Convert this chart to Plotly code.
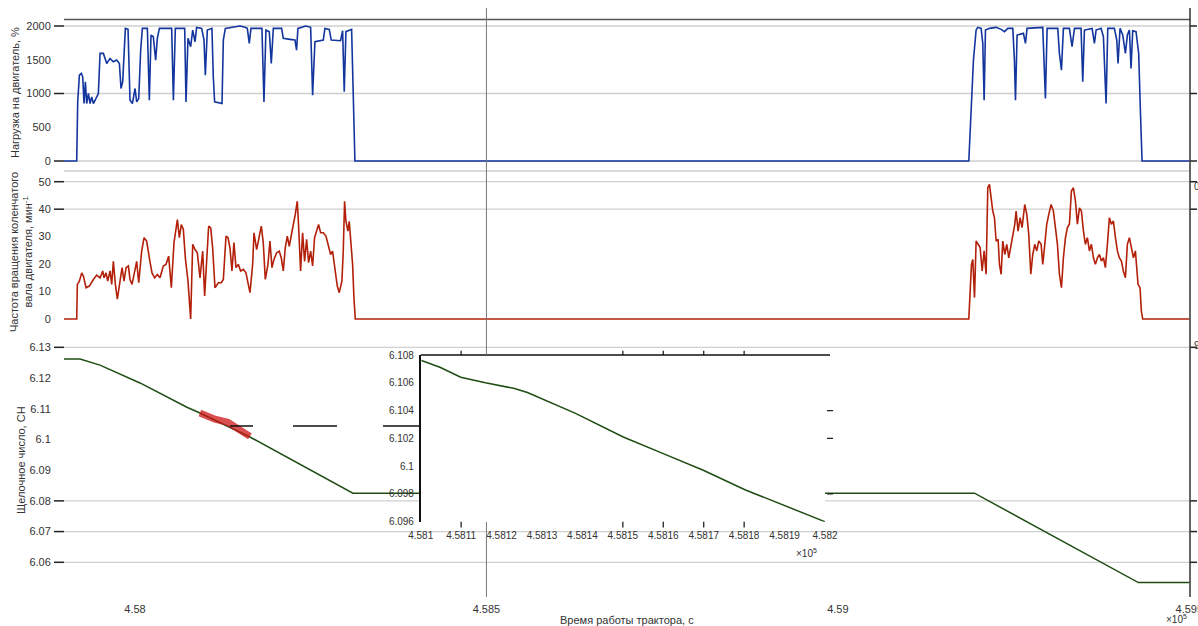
import plotly.graph_objects as go

# ---------------- data ----------------
LOAD_T = [457899, 457917.1, 457918.5, 457920.9, 457923.7, 457925.6, 457927.5, 457929.4, 457931.3, 457933.7,
          457936.1, 457938.4, 457940.8, 457944.6, 457947.9, 457950.3, 457955.0, 457959.8, 457964.5, 457969.2,
          457974.0, 457977.8, 457980.1, 457982.5, 457984.4, 457986.3, 457990.1, 457992.9, 457996.3, 458000.1,
          458002.4, 458005.3, 458008.1, 458010.5, 458017.6, 458020.4, 458022.8, 458026.1, 458029.4, 458031.8,
          458034.7, 458052.2, 458054.6, 458057.4, 458070.7, 458072.6, 458075.4, 458079.2, 458082.1, 458085.4,
          458087.7, 458094.9, 458098.2, 458100.1, 458102.9, 458109.5, 458111.4, 458113.3, 458123.8, 458125.7,
          458128.5, 458139.9, 458149.4, 458156.5, 458159.8, 458162.6, 458165.0, 458180.6, 458183.5, 458186.3,
          458191.1, 458193.9, 458196.8, 458208.6, 458211.0, 458220.5, 458227.6, 458229.9, 458231.8, 458243.2,
          458249.9, 458252.7, 458256.0, 458267.9, 458270.2, 458276.4, 458279.2, 458292.5, 458295.4, 458297.7,
          458300.1, 458308.2, 458310.5, 458312.9,
          459186.3, 459189.6, 459192.9, 459196.7, 459199.1, 459203.8, 459206.2, 459208.1, 459210.0, 459215.7,
          459225.2, 459232.3, 459237.0, 459241.8, 459248.9, 459251.2, 459252.7, 459255.0, 459260.7, 459264.0,
          459266.9, 459269.2, 459291.5, 459293.4, 459295.3, 459297.7, 459312.9, 459315.2, 459318.1, 459320.9,
          459329.4, 459333.2, 459336.6, 459346.0, 459348.4, 459350.8, 459361.7, 459365.0, 459367.4, 459374.5,
          459377.8, 459381.6, 459384.0, 459393.4, 459396.8, 459398.6, 459401.5, 459405.3, 459409.1, 459411.9,
          459414.8, 459417.1, 459419.5, 459424.2, 459428.0, 459430.4, 459432.8, 459500]
LOAD_V = [0, 0, 876, 1272, 1297, 1247, 851, 1173, 851, 1000,
          851, 950, 851, 925, 1000, 1594, 1594, 1445, 1520, 1470,
          1495, 1445, 1074, 1173, 1495, 1965, 1950, 900, 851, 1074,
          876, 925, 1643, 1965, 1965, 900, 1866, 1841, 1495, 1817,
          1965, 1965, 900, 1965, 1965, 876, 1817, 1693, 1940, 1767,
          1980, 1965, 1792, 1272, 1940, 1965, 1247, 876, 851, 1792,
          1965, 1980, 2000, 1980, 1965, 1742, 1965, 1965, 876, 1940,
          1916, 1445, 1965, 1965, 1817, 1802, 1792, 1643, 1965, 2000,
          1980, 975, 1767, 1792, 1965, 1950, 1792, 1782, 1930, 1025,
          1916, 1950, 900, 0,
          0, 752, 1495, 1940, 1980, 1965, 1742, 900, 1940, 1965,
          1980, 1950, 1916, 1965, 1965, 1495, 900, 1866, 1881, 1891,
          1742, 1965, 1980, 1495, 925, 1965, 1965, 1594, 1346, 1965,
          1965, 1693, 1965, 1965, 1173, 1940, 1965, 1742, 1940, 1965,
          1841, 851, 1965, 1965, 1792, 1445, 1965, 1866, 1594, 1866,
          1940, 1371, 1930, 1916, 1594, 752, 0, 0]

RPM_T = [457899, 457917.1, 457918.0, 457920.9, 457924.2, 457926.6, 457930.4, 457935.1, 457940.8, 457945.5,
         457950.3, 457954.1, 457956.0, 457958.8, 457961.2, 457964.5, 457966.9, 457969.2, 457972.1, 457974.9,
         457978.7, 457981.6, 457984.4, 457987.3, 457990.6, 457992.9, 457995.8, 457999.6, 458002.4, 458005.3,
         458009.5, 458012.9, 458016.6, 458020.4, 458024.2, 458028.0, 458031.8, 458035.6, 458040.3, 458044.1,
         458047.9, 458051.7, 458055.5, 458060.3, 458063.1, 458065.9, 458068.8, 458071.6, 458075.4, 458079.2,
         458082.1, 458085.4, 458088.7, 458092.5, 458096.3, 458099.1, 458102.0, 458104.8, 458107.7, 458110.5,
         458113.8, 458118.6, 458122.8, 458125.7, 458129.5, 458132.3, 458135.1, 458138.0, 458140.8, 458143.7,
         458147.0, 458150.3, 458154.1, 458157.9, 458161.2, 458163.6, 458167.4, 458169.3, 458173.1, 458176.4,
         458179.7, 458182.5, 458185.4, 458189.2, 458192.0, 458194.9, 458197.7, 458201.5, 458205.3, 458208.1,
         458211.0, 458213.8, 458216.7, 458219.5, 458222.4, 458225.2, 458228.0, 458230.9, 458232.8, 458235.6,
         458238.5, 458241.3, 458244.2, 458247.0, 458249.9, 458252.7, 458255.5, 458258.4, 458261.2, 458264.1,
         458267.9, 458271.7, 458275.4, 458278.3, 458281.1, 458284.0, 458287.8, 458290.6, 458294.4, 458296.3,
         458298.2, 458300.1, 458302.9, 458304.8, 458306.7, 458309.6, 458311.5, 458313.4,
         459186.3, 459188.2, 459190.1, 459192.0, 459194.4, 459196.7, 459199.6, 459202.4, 459205.3, 459208.1,
         459210.9, 459213.3, 459215.7, 459218.1, 459220.4, 459222.8, 459225.2, 459228.0, 459229.9, 459232.3,
         459234.6, 459237.5, 459240.3, 459243.2, 459246.5, 459248.9, 459251.7, 459253.6, 459256.4, 459259.3,
         459262.1, 459265.9, 459268.8, 459271.6, 459274.5, 459277.3, 459280.1, 459283.0, 459285.8, 459289.2,
         459291.5, 459294.4, 459297.2, 459300.1, 459303.4, 459306.7, 459309.5, 459312.4, 459315.2, 459318.1,
         459320.9, 459323.8, 459326.6, 459329.4, 459332.3, 459335.1, 459338.0, 459340.8, 459343.7, 459346.5,
         459349.4, 459352.2, 459355.0, 459357.9, 459360.7, 459363.6, 459366.4, 459369.3, 459372.1, 459375.0,
         459377.8, 459380.6, 459383.5, 459386.3, 459389.2, 459392.0, 459394.9, 459397.7, 459400.5, 459403.4,
         459406.2, 459409.1, 459411.9, 459414.8, 459417.6, 459420.5, 459423.3, 459425.2, 459427.1, 459429.9,
         459431.8, 459433.7, 459500]
RPM_V = [0, 0, 12.6, 13.8, 16.8, 15.6, 11.4, 12.0, 14.4, 16.0,
         15.0, 17.5, 15.0, 16.8, 13.8, 17.5, 12.6, 21.0, 12.6, 7.2,
         13.8, 18.7, 13.8, 18.7, 19.3, 14.4, 12.6, 16.8, 21.0, 13.2,
         24.7, 29.6, 28.4, 22.3, 16.8, 15.0, 16.2, 15.0, 19.3, 19.9,
         22.9, 11.4, 27.8, 36.2, 29.6, 34.4, 32.6, 22.3, 13.8, 0,
         27.2, 25.3, 24.1, 15.0, 24.7, 8.4, 23.5, 33.8, 33.2, 25.9,
         11.4, 13.2, 13.2, 14.4, 30.2, 29.6, 25.9, 17.5, 27.8, 18.7,
         19.9, 17.5, 18.1, 16.8, 12.6, 9.6, 19.9, 31.4, 25.3, 29.6,
         33.8, 27.8, 14.4, 19.9, 28.4, 18.7, 21.7, 24.1, 24.7, 22.3,
         17.5, 25.9, 30.2, 26.5, 31.4, 34.4, 38.0, 42.9, 33.8, 17.5,
         31.4, 21.0, 29.0, 20.5, 24.7, 19.3, 29.6, 32.0, 34.4, 31.4,
         31.4, 30.2, 26.5, 23.5, 24.7, 18.7, 12.0, 9.6, 13.8, 24.7,
         42.9, 35.6, 32.0, 35.6, 29.6, 19.9, 7.8, 0,
         0, 9.0, 19.9, 21.7, 7.8, 28.4, 27.2, 26.0, 17.5, 24.8,
         16.3, 47.8, 49.0, 43.0, 39.3, 36.9, 28.4, 29.0, 19.9, 16.3,
         28.4, 23.5, 27.2, 22.3, 27.2, 29.6, 34.5, 39.3, 32.0, 36.9,
         33.3, 41.7, 38.1, 30.8, 16.3, 23.5, 27.2, 24.8, 28.4, 27.2,
         19.9, 27.2, 34.5, 38.1, 41.7, 39.3, 32.0, 27.2, 16.3, 11.4,
         22.3, 29.6, 33.3, 34.5, 46.6, 47.8, 43.0, 34.5, 40.5, 39.3,
         32.0, 27.2, 29.6, 24.8, 27.2, 22.3, 19.9, 22.3, 23.5, 21.1,
         22.3, 18.7, 27.2, 36.9, 34.5, 35.7, 29.6, 24.8, 22.3, 21.1,
         17.5, 15.0, 27.2, 29.6, 26.0, 22.3, 24.8, 17.5, 12.6, 11.4,
         2.9, 0, 0]

BN_T = [457899, 457921.8, 457950.2, 457992.9, 458007.1, 458073.9, 458092.4, 458163.5, 458310.0,
        459194.4, 459427.6, 459500]
BN_V = [6.1262, 6.1262, 6.1242, 6.1197, 6.1184, 6.1105, 6.1086, 6.1008, 6.0825,
        6.0825, 6.0534, 6.0534]

HL_T = [458092.4, 458113.7, 458132.2, 458149.3, 458163.5]
HL_V = [6.1086, 6.1066, 6.1056, 6.1034, 6.1010]

INSET_T = [458100.2, 458104.9, 458109.9, 458116.0, 458123.0, 458126.4, 458138.3, 458150.1,
           458160.0, 458169.9, 458180.2, 458200.0]
INSET_V = [6.1076, 6.1071, 6.1064, 6.1060, 6.1056, 6.1053, 6.1038, 6.1021,
           6.1009, 6.0997, 6.0983, 6.0960]

X_TICKS = [458000, 458500, 459000, 459500]
X_TICK_TEXT = ["4.58", "4.585", "4.59", "4.595"]
LOAD_TICKS = [0, 500, 1000, 1500, 2000]
LOAD_GRID = [0, 1000, 2000]
RPM_TICKS = [0, 10, 20, 30, 40, 50]
RPM_GRID = [40, 50]
BN_TICKS = [6.06, 6.07, 6.08, 6.09, 6.10, 6.11, 6.12, 6.13]
BN_TICK_TEXT = ["6.06", "6.07", "6.08", "6.09", "6.1", "6.11", "6.12", "6.13"]
BN_GRID = [6.06, 6.07, 6.08, 6.13]
INSET_X_TICKS = [458100, 458110, 458120, 458130, 458140, 458150, 458160, 458170, 458180, 458190, 458200]
INSET_X_TEXT = ["4.581", "4.5811", "4.5812", "4.5813", "4.5814", "4.5815", "4.5816", "4.5817",
                "4.5818", "4.5819", "4.582"]
INSET_X_GRID = [458110, 458150, 458160, 458170, 458180]
INSET_Y_TICKS = [6.096, 6.098, 6.100, 6.102, 6.104, 6.106, 6.108]
INSET_Y_TEXT = ["6.096", "6.098", "6.1", "6.102", "6.104", "6.106", "6.108"]
INSET_Y_GRID = [6.098, 6.102, 6.104]

# ---------------- styling ----------------
W, H = 1198, 626
FONT = "Liberation Sans, Arial, sans-serif"
BLUE = "#13359e"
RED = "#b3200a"
GREEN = "#1f4d14"
GRID = "#cfcfcf"
TXT = "#333333"


def py(p):
    return 1 - p / H


def px(p):
    return p / W


fig = go.Figure()
fig.add_trace(go.Scatter(x=LOAD_T, y=LOAD_V, xaxis="x", yaxis="y", mode="lines",
                         line=dict(color=BLUE, width=1.6), showlegend=False))
fig.add_trace(go.Scatter(x=RPM_T, y=RPM_V, xaxis="x2", yaxis="y2", mode="lines",
                         line=dict(color=RED, width=1.6), showlegend=False))
fig.add_trace(go.Scatter(x=BN_T, y=BN_V, xaxis="x3", yaxis="y3", mode="lines",
                         line=dict(color=GREEN, width=1.5), showlegend=False))
fig.add_trace(go.Scatter(x=HL_T, y=HL_V, xaxis="x3", yaxis="y3", mode="lines",
                         line=dict(color="rgba(205,20,20,0.75)", width=7), showlegend=False))
fig.add_trace(go.Scatter(x=INSET_T, y=INSET_V, xaxis="x4", yaxis="y4", mode="lines",
                         line=dict(color=GREEN, width=1.5), showlegend=False))

XDOM = [px(64), px(1190)]
XRANGE = [457899, 459501]
tickfont = dict(family=FONT, size=11, color=TXT)

common_x = dict(domain=XDOM, range=XRANGE, showgrid=False, zeroline=False, showline=False,
                tickvals=X_TICKS, ticktext=X_TICK_TEXT, tickfont=tickfont)
common_y = dict(showgrid=False, zeroline=False, showline=False, ticks="outside", ticklen=10,
                tickcolor="rgba(0,0,0,0)", tickfont=tickfont)

fig.update_layout(
    width=W, height=H, template="none",
    margin=dict(l=0, r=0, t=0, b=0),
    paper_bgcolor="white", plot_bgcolor="white",
    font=dict(family=FONT, size=11, color=TXT),
    xaxis=dict(common_x, anchor="y", showticklabels=False),
    xaxis2=dict(common_x, anchor="y2", showticklabels=False),
    xaxis3=dict(common_x, anchor="y3", ticks="outside", ticklen=2, tickcolor="rgba(0,0,0,0)",
                ticklabeloverflow="allow"),
    yaxis=dict(common_y, domain=[py(166), py(19.5)], range=[-74.1, 2096.3], anchor="x",
               tickvals=LOAD_TICKS),
    yaxis2=dict(common_y, domain=[py(325), py(171)], range=[-2.18, 53.9], anchor="x2",
                tickvals=RPM_TICKS),
    yaxis3=dict(common_y, domain=[py(597), py(340)], range=[6.0487, 6.13238], anchor="x3",
                tickvals=BN_TICKS, ticktext=BN_TICK_TEXT),
    xaxis4=dict(domain=[px(420.7), px(825)], range=[458100, 458200], anchor="y4",
                showgrid=False, zeroline=False, showline=False,
                tickvals=INSET_X_TICKS, ticktext=INSET_X_TEXT, ticks="outside", ticklen=4,
                tickcolor="rgba(0,0,0,0)", tickfont=dict(family=FONT, size=10, color=TXT)),
    yaxis4=dict(domain=[py(521.7), py(355)], range=[6.096, 6.108], anchor="x4",
                showgrid=False, zeroline=False, showline=True, linecolor="#111111", linewidth=1.5,
                tickvals=INSET_Y_TICKS, ticktext=INSET_Y_TEXT, ticks="outside", ticklen=3,
                tickcolor="rgba(0,0,0,0)", tickfont=dict(family=FONT, size=10, color=TXT)),
)

shapes = []


def grid_shapes(xname, yname, vals, right_tick=True):
    for v in vals:
        shapes.append(dict(type="line", xref=f"{xname} domain", yref=yname, x0=0, x1=1, y0=v, y1=v,
                           line=dict(color=GRID, width=1.3), layer="below"))
        shapes.append(dict(type="line", xref=f"{xname} domain", yref=yname, x0=-10 / 1126, x1=0,
                           y0=v, y1=v, line=dict(color="#222222", width=1.5)))
        if right_tick:
            shapes.append(dict(type="line", xref=f"{xname} domain", yref=yname, x0=1, x1=1 + 7 / 1126,
                               y0=v, y1=v, line=dict(color="#222222", width=1.5)))


grid_shapes("x", "y", LOAD_GRID)
grid_shapes("x2", "y2", RPM_GRID)
grid_shapes("x3", "y3", BN_GRID)

# inset grid
for v in INSET_Y_GRID:
    shapes.append(dict(type="line", xref="x4 domain", yref="y4", x0=0, x1=1, y0=v, y1=v,
                       line=dict(color=GRID, width=1.3), layer="below"))
    shapes.append(dict(type="line", xref="x4 domain", yref="y4", x0=1.005, x1=1.02, y0=v, y1=v,
                       line=dict(color="#222222", width=1.3)))
for v in INSET_X_GRID:
    shapes.append(dict(type="line", xref="x4", yref="y4 domain", x0=v, x1=v, y0=0, y1=1,
                       line=dict(color=GRID, width=1.3), layer="below"))
    shapes.append(dict(type="line", xref="x4", yref="y4 domain", x0=v, x1=v, y0=-0.035, y1=0,
                       line=dict(color="#222222", width=1.3)))
    shapes.append(dict(type="line", xref="x4", yref="y4 domain", x0=v, x1=v, y0=1, y1=1.025,
                       line=dict(color="#222222", width=1.3)))
# inset top border
shapes.append(dict(type="line", xref="paper", yref="paper", x0=px(420.7), x1=px(830),
                   y0=py(355), y1=py(355), line=dict(color="#111111", width=1.5)))

# frame lines
shapes.append(dict(type="line", xref="paper", yref="paper", x0=px(64), x1=px(1190),
                   y0=py(19.5), y1=py(19.5), line=dict(color="#555555", width=1.6)))
shapes.append(dict(type="line", xref="paper", yref="paper", x0=px(64), x1=px(1190),
                   y0=py(171), y1=py(171), line=dict(color=GRID, width=1.3)))
shapes.append(dict(type="line", xref="paper", yref="paper", x0=px(1190), x1=px(1190),
                   y0=py(597), y1=py(8), line=dict(color="#333333", width=1.5)))

# long vertical 4.585 line (hidden behind inset)
for y0, y1 in [(8, 355), (522, 597)]:
    shapes.append(dict(type="line", xref="x3", yref="paper", x0=X_TICKS[1], x1=X_TICKS[1],
                       y0=py(y1), y1=py(y0), line=dict(color="#777777", width=1)))

# dashed black connector
for a, b in [(230, 253), (293, 337), (383, 419)]:
    shapes.append(dict(type="line", xref="paper", yref="paper", x0=px(a), x1=px(b),
                       y0=py(426), y1=py(426), line=dict(color="#111111", width=1.5)))

fig.update_layout(shapes=shapes)

ann = []


def side_title(text, xc, yc):
    ann.append(dict(text=text, x=px(xc), y=py(yc), xref="paper", yref="paper",
                    xanchor="center", yanchor="middle", textangle=-90, showarrow=False,
                    font=dict(size=11, color=TXT)))


side_title("Нагрузка на двигатель, %", 15, 93)
side_title("Частота вращения коленчатого<br>вала двигателя, мин<sup>-1</sup>", 21, 252)
side_title("Щелочное число, СН", 21, 460)
ann.append(dict(text="Время работы трактора, с", x=px(627), y=py(620), xref="paper", yref="paper",
                xanchor="center", yanchor="middle", showarrow=False, font=dict(size=11, color=TXT)))
ann.append(dict(text="×10<sup>5</sup>", x=px(1176), y=py(619), xref="paper", yref="paper",
                xanchor="center", yanchor="middle", showarrow=False, font=dict(size=10, color=TXT)))
ann.append(dict(text="×10<sup>5</sup>", x=px(806), y=py(553), xref="paper", yref="paper",
                xanchor="center", yanchor="middle", showarrow=False, font=dict(size=10, color=TXT)))
ann.append(dict(text="0", x=px(1192), y=py(187), xref="paper", yref="paper", xanchor="left",
                yanchor="middle", showarrow=False, font=dict(size=10, color=TXT)))
ann.append(dict(text="9", x=px(1192), y=py(345), xref="paper", yref="paper", xanchor="left",
                yanchor="middle", showarrow=False, font=dict(size=10, color=TXT)))
fig.update_layout(annotations=ann)

fig.write_html("out.html", config={"displayModeBar": False},
               post_script="document.body.style.margin='0';document.body.style.overflow='hidden';")
